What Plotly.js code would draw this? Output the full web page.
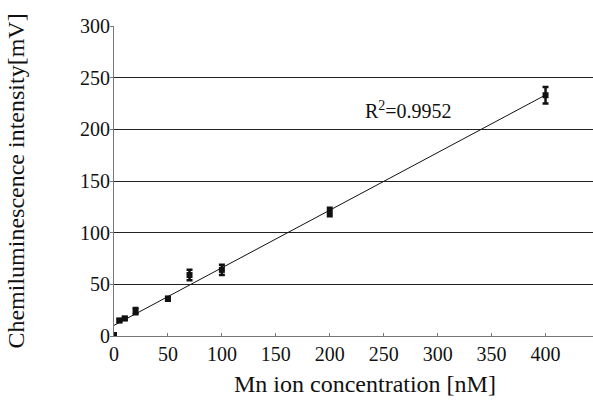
<!DOCTYPE html>
<html>
<head>
<meta charset="utf-8">
<script src="https://cdn.plot.ly/plotly-3.0.1.min.js"></script>
<style>
html,body{margin:0;padding:0;background:#fff;}
#chart{width:593px;height:401px;}
#chart svg text{font-family:"Liberation Serif", serif !important;}
</style>
</head>
<body>
<div id="chart"></div>
<script>
// Data
const concentration = [0, 5, 10, 20, 50, 70, 100, 200, 400];      // nM
const intensity     = [1, 15, 17, 24, 36, 59, 64, 120, 233];       // mV
const errorBar      = [1, 1.5, 1.5, 3, 2, 5, 5, 4, 8];             // mV
const xTicks = [0, 50, 100, 150, 200, 250, 300, 350, 400];
const yTicks = [0, 50, 100, 150, 200, 250, 300];
const r2Label = 'R<sup>2</sup>=0.9952';

// Least-squares linear trendline from the data
const n = concentration.length;
const mx = concentration.reduce((a, b) => a + b, 0) / n;
const my = intensity.reduce((a, b) => a + b, 0) / n;
let sxy = 0, sxx = 0;
for (let i = 0; i < n; i++) {
  sxy += (concentration[i] - mx) * (intensity[i] - my);
  sxx += (concentration[i] - mx) ** 2;
}
const slope = sxy / sxx;
const intercept = my - slope * mx;
const fitX = [Math.min(...concentration), Math.max(...concentration)];
const fitY = fitX.map(x => intercept + slope * x);

const serif = 'Liberation Serif';

const traces = [
  {
    x: fitX, y: fitY, type: 'scatter', mode: 'lines',
    line: {color: '#111', width: 1}, hoverinfo: 'skip', showlegend: false
  },
  {
    x: concentration, y: intensity, type: 'scatter', mode: 'markers',
    marker: {symbol: 'square', size: 6, color: '#111'},
    error_y: {type: 'data', array: errorBar, visible: true, color: '#111', thickness: 2.5, width: 3},
    showlegend: false
  }
];

const layout = {
  width: 593, height: 401,
  margin: {l: 114, r: 0, t: 26, b: 65},
  paper_bgcolor: '#fff', plot_bgcolor: '#fff',
  font: {family: serif, color: '#111', size: 20},
  xaxis: {
    range: [0, 444], tickvals: xTicks, ticktext: xTicks.map(String),
    showgrid: false, zeroline: false,
    showline: true, linecolor: '#777', linewidth: 1,
    ticks: 'inside', ticklen: 3, tickcolor: '#777',
    tickfont: {family: serif, size: 20, color: '#111'},
    fixedrange: true
  },
  yaxis: {
    range: [0, 300], tickvals: yTicks, ticktext: yTicks.map(String),
    showgrid: true, gridcolor: '#222', gridwidth: 1,
    zeroline: false, showline: true, linecolor: '#777', linewidth: 1,
    ticks: 'outside', ticklen: 3, tickcolor: '#777',
    ticklabelstandoff: -4,
    tickfont: {family: serif, size: 20, color: '#111'},
    title: {text: 'Chemiluminescence intensity[mV]', font: {family: serif, size: 24, color: '#111'}, standoff: 48},
    automargin: false,
    fixedrange: true
  },
  annotations: [
    {
      text: r2Label, x: 273, y: 219, xref: 'x', yref: 'y',
      showarrow: false, font: {family: serif, size: 20, color: '#111'}
    },
    {
      text: 'Mn ion concentration [nM]', x: 233, y: -0.155, xref: 'x', yref: 'paper',
      yanchor: 'middle', showarrow: false, font: {family: serif, size: 24, color: '#111'}
    }
  ]
};

Plotly.newPlot('chart', traces, layout, {displayModeBar: false, staticPlot: true});
</script>
</body>
</html>
